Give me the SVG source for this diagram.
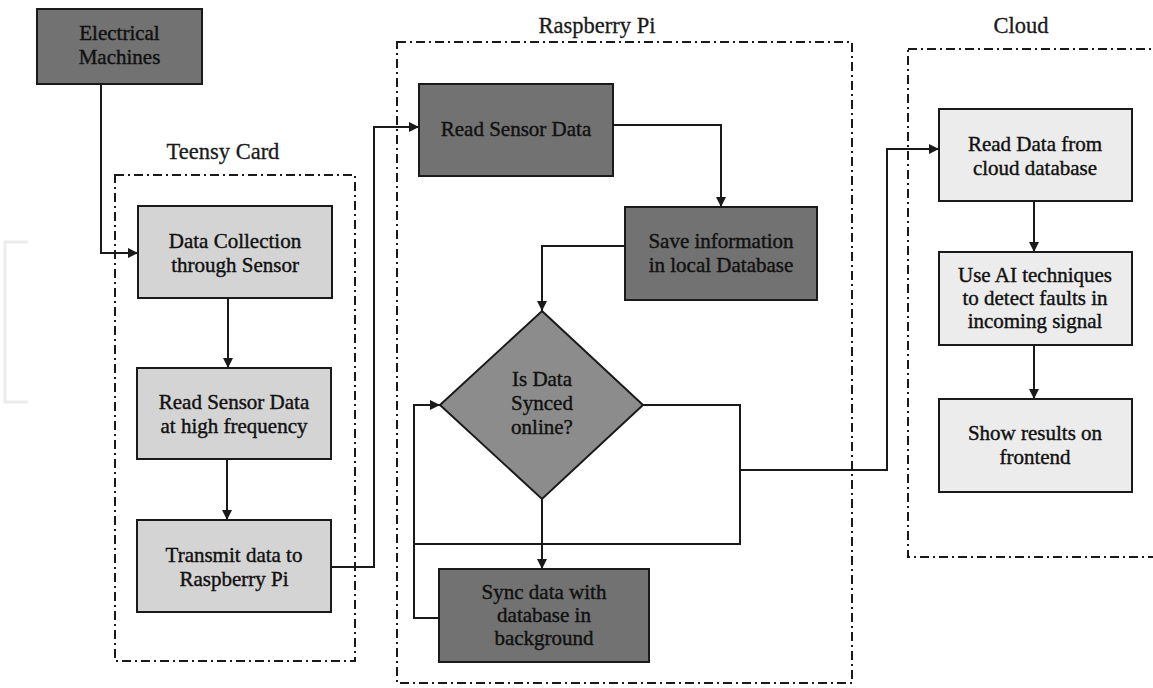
<svg xmlns="http://www.w3.org/2000/svg" width="1153" height="688" viewBox="0 0 1153 688">
<defs>
<style>
.grp{fill:none;stroke:#1a1a1a;stroke-width:2;stroke-dasharray:9 4 2 4}
.title{font-family:"Liberation Serif","DejaVu Serif",serif;font-size:22.5px;fill:#1a1a1a;stroke:#1a1a1a;stroke-width:0.3;text-anchor:middle}
.lbl{font-family:"Liberation Serif","DejaVu Serif",serif;font-size:21px;fill:#111;stroke:#111;stroke-width:0.4;text-anchor:middle}
.dark{fill:#727272;stroke:#1a1a1a;stroke-width:2}
.mid{fill:#d4d4d4;stroke:#1a1a1a;stroke-width:2}
.light{fill:#ececec;stroke:#1a1a1a;stroke-width:2}
.dia{fill:#8c8c8c;stroke:#1a1a1a;stroke-width:2}
.con{fill:none;stroke:#1a1a1a;stroke-width:2}
</style>
<marker id="ah" viewBox="0 0 10 10" refX="10" refY="5" markerWidth="10" markerHeight="10" markerUnits="userSpaceOnUse" orient="auto">
<path d="M0,0 L10,5 L0,10 Z" fill="#1a1a1a"/>
</marker>
</defs>
<rect width="1153" height="688" fill="#fff"/>
<path d="M28,242 H5 V402 H28" fill="none" stroke="#ececec" stroke-width="3"/>

<g id="groups">
<rect class="grp" x="115" y="175" width="240" height="486"/>
<rect class="grp" x="397" y="42" width="455" height="641"/>
<rect class="grp" x="908" y="49" width="260" height="508"/>
<text class="title" x="223" y="159">Teensy Card</text>
<text class="title" x="597" y="33">Raspberry Pi</text>
<text class="title" x="1021" y="33">Cloud</text>
</g>

<g id="connectors">
<path class="con" d="M101,84 V253 H138" marker-end="url(#ah)"/>
<path class="con" d="M228,298 V368" marker-end="url(#ah)"/>
<path class="con" d="M227,459 V520" marker-end="url(#ah)"/>
<path class="con" d="M331,567 H374 V127 H419" marker-end="url(#ah)"/>
<path class="con" d="M613,125 H721 V207" marker-end="url(#ah)"/>
<path class="con" d="M625,246 H542 V311" marker-end="url(#ah)"/>
<path class="con" d="M542,499 V569" marker-end="url(#ah)"/>
<path class="con" d="M643,405 H740 V544 H414"/>
<path class="con" d="M439,618 H414 V405 H440" marker-end="url(#ah)"/>
<path class="con" d="M740,470 H887 V149 H939" marker-end="url(#ah)"/>
<path class="con" d="M1034,201 V252" marker-end="url(#ah)"/>
<path class="con" d="M1034,345 V399" marker-end="url(#ah)"/>
</g>

<g id="electrical-machines">
<rect class="dark" x="37" y="9" width="165" height="75"/>
<text class="lbl" x="119.5" y="40">Electrical</text>
<text class="lbl" x="119.5" y="64">Machines</text>
</g>

<g id="data-collection">
<rect class="mid" x="138" y="206" width="194" height="92"/>
<text class="lbl" x="235" y="248">Data Collection</text>
<text class="lbl" x="235" y="272">through Sensor</text>
</g>

<g id="read-high-freq">
<rect class="mid" x="137" y="368" width="194" height="91"/>
<text class="lbl" x="234" y="409">Read Sensor Data</text>
<text class="lbl" x="234" y="433">at high frequency</text>
</g>

<g id="transmit">
<rect class="mid" x="137" y="520" width="194" height="92"/>
<text class="lbl" x="234" y="562">Transmit data to</text>
<text class="lbl" x="234" y="586">Raspberry Pi</text>
</g>

<g id="pi-read">
<rect class="dark" x="419" y="84" width="194" height="92"/>
<text class="lbl" x="516" y="136">Read Sensor Data</text>
</g>

<g id="save-info">
<rect class="dark" x="625" y="207" width="192" height="93"/>
<text class="lbl" x="721" y="248">Save information</text>
<text class="lbl" x="721" y="272">in local Database</text>
</g>

<g id="is-synced">
<polygon class="dia" points="542,311 643,405 542,499 440,405"/>
<text class="lbl" x="542" y="386">Is Data</text>
<text class="lbl" x="542" y="410">Synced</text>
<text class="lbl" x="542" y="434">online?</text>
</g>

<g id="sync-data">
<rect class="dark" x="439" y="569" width="210" height="93"/>
<text class="lbl" x="544" y="599">Sync data with</text>
<text class="lbl" x="544" y="622">database in</text>
<text class="lbl" x="544" y="645">background</text>
</g>

<g id="cloud-read">
<rect class="light" x="939" y="109" width="193" height="92"/>
<text class="lbl" x="1035" y="151">Read Data from</text>
<text class="lbl" x="1035" y="175">cloud database</text>
</g>

<g id="use-ai">
<rect class="light" x="939" y="252" width="193" height="93"/>
<text class="lbl" x="1035" y="282">Use AI techniques</text>
<text class="lbl" x="1035" y="305">to detect faults in</text>
<text class="lbl" x="1035" y="328">incoming signal</text>
</g>

<g id="show-results">
<rect class="light" x="939" y="399" width="193" height="93"/>
<text class="lbl" x="1035" y="440">Show results on</text>
<text class="lbl" x="1035" y="464">frontend</text>
</g>
</svg>
